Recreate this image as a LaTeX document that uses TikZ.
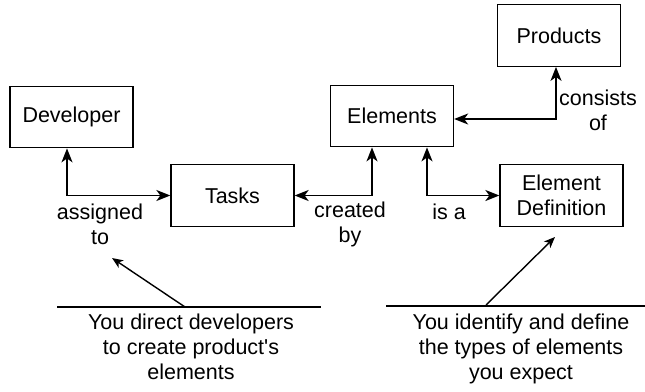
\documentclass[tikz,border=0pt]{standalone}
\usepackage{fontspec}
\setmainfont{Liberation Sans}
\usetikzlibrary{arrows.meta}
\begin{document}
\begin{tikzpicture}[x=1pt,y=-1pt,
  box/.style={draw,line width=1.3pt,minimum width=123pt,minimum height=61.5pt,inner sep=0pt,align=center,
    font=\fontsize{21.5}{25}\selectfont},
  lbl/.style={align=center,inner sep=0pt,font=\fontsize{21.5}{25}\selectfont},
  link/.style={line width=1.8pt,{Stealth[length=14pt,width=11pt,inset=4pt]}-{Stealth[length=14pt,width=11pt,inset=4pt]}},
  note/.style={line width=1.4pt,-{Stealth[length=11pt,width=9pt,inset=3pt]}},
  rule/.style={line width=1.4pt}]
\useasboundingbox (0,0) rectangle (645,391);

% entity boxes
\node[box] (dev)  at (71.5,117)   {Developer};
\node[box] (task) at (232.5,195.5) {Tasks};
\node[box] (elem) at (392,116)    {Elements};
\node[box] (prod) at (559,35.5)   {Products};
\node[box] (edef) at (561.5,195.5) {Element\\Definition};

% relations
\draw[link] ([xshift=-4.5pt]dev.south) |- (task.west);
\draw[link] (task.east) -| ([xshift=-20pt]elem.south);
\draw[link] ([xshift=35pt]elem.south) |- (edef.west);
\draw[link] ([yshift=-3pt]elem.east) -| ([xshift=-3pt]prod.south);

% relation labels
\node[lbl] (la) at (100,224) {assigned\\to};
\node[lbl] (lc) at (350,224) {created\\by};
\node[lbl] (li) at (449,212) {is a};
\node[lbl] (lk) at (598,110) {consists\\of};

% annotations
\coordinate (r1a) at (57,307);
\coordinate (r1b) at (321,307);
\coordinate (p1)  at (185,307);
\coordinate (t1)  at (112,258);
\draw[rule] (r1a) -- (r1b);
\draw[note] (p1) -- (t1);
\node[lbl,anchor=north] (n1) at (191,313.5) {You direct developers\\to create product\textquotesingle s\\elements};

\coordinate (r2a) at (386,306);
\coordinate (r2b) at (645,306);
\coordinate (p2)  at (486,305);
\coordinate (t2)  at (555,237);
\draw[rule] (r2a) -- (r2b);
\draw[note] (p2) -- (t2);
\node[lbl,anchor=north] (n2) at (521,314) {You identify and define\\the types of elements\\you expect};
\end{tikzpicture}
\end{document}
